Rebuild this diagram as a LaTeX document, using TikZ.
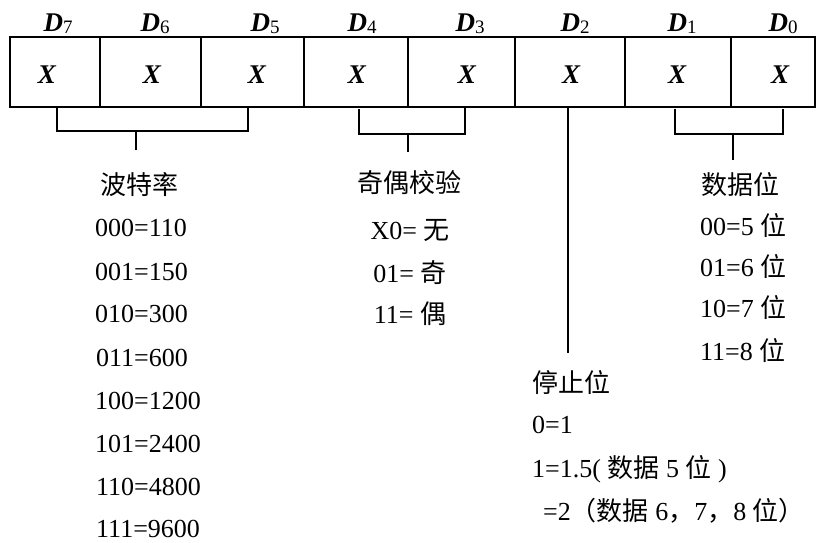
\documentclass[tikz,border=0pt]{standalone}
\usepackage{fontspec}
\setmainfont{Liberation Serif}
\newfontfamily\cjk{Noto Sans CJK SC}
\tikzset{
  cellbox/.style={draw, line width=2.4pt, minimum height=70pt, inner sep=0pt},
  bitx/.style={font=\fontsize{27}{27}\selectfont\bfseries\itshape, inner sep=0pt},
  dlab/.style={font=\fontsize{27}{27}\selectfont, inner sep=0pt},
  txt/.style={font=\fontsize{26}{26}\selectfont, inner sep=0pt},
  brk/.style={line width=2.2pt},
}
\newcommand{\Dlab}[1]{\textbf{\textit{D}}\raisebox{-2pt}{\fontsize{19}{19}\selectfont #1}}
\begin{document}
\begin{tikzpicture}[x=1pt,y=-1pt]
\useasboundingbox (0,0) rectangle (817,542);
% cells
\node[cellbox, minimum width=90pt]  (c7) at (55,72) {};
\node[cellbox, minimum width=101pt] (c6) at (150.5,72) {};
\node[cellbox, minimum width=103pt] (c5) at (252.5,72) {};
\node[cellbox, minimum width=104pt] (c4) at (356,72) {};
\node[cellbox, minimum width=107pt] (c3) at (461.5,72) {};
\node[cellbox, minimum width=110pt] (c2) at (570,72) {};
\node[cellbox, minimum width=106pt] (c1) at (678,72) {};
\node[cellbox, minimum width=84pt]  (c0) at (773,72) {};
% X marks
\node[bitx] (x7) at (47,75) {X};
\node[bitx] (x6) at (152,75) {X};
\node[bitx] (x5) at (257,75) {X};
\node[bitx] (x4) at (357,75) {X};
\node[bitx] (x3) at (467,75) {X};
\node[bitx] (x2) at (571,75) {X};
\node[bitx] (x1) at (677,75) {X};
\node[bitx] (x0) at (780,75) {X};
% D labels
\node[dlab] (d7) at (58,24) {\Dlab{7}};
\node[dlab] (d6) at (155,24) {\Dlab{6}};
\node[dlab] (d5) at (265,24) {\Dlab{5}};
\node[dlab] (d4) at (362,24) {\Dlab{4}};
\node[dlab] (d3) at (470,24) {\Dlab{3}};
\node[dlab] (d2) at (575,24) {\Dlab{2}};
\node[dlab] (d1) at (682,24) {\Dlab{1}};
\node[dlab] (d0) at (783,24) {\Dlab{0}};
% bracket coordinates
\coordinate (b1l) at (57,107);
\coordinate (b1r) at (248,107);
\coordinate (b1m) at (136,131);
\coordinate (b1e) at (136,150);
\coordinate (b2l) at (359,109);
\coordinate (b2r) at (465,107);
\coordinate (b2m) at (408,134);
\coordinate (b2e) at (408,152);
\coordinate (b3l) at (675,109);
\coordinate (b3r) at (783,109);
\coordinate (b3m) at (733,134);
\coordinate (b3e) at (733,160);
\coordinate (s2t) at (568,107);
\coordinate (s2e) at (568,353);
% brackets
\draw[brk] (b1l) |- (b1m) -| (b1r);
\draw[brk] (b1m) -- (b1e);
\draw[brk] (b2l) |- (b2m) -| (b2r);
\draw[brk] (b2m) -- (b2e);
\draw[brk] (b3l) |- (b3m) -| (b3r);
\draw[brk] (b3m) -- (b3e);
\draw[brk] (s2t) -- (s2e);
% baud rate
\node[txt] (baudt) at (139,185) {\cjk 波特率};
\node[txt, anchor=base west] (bd0) at (95,236) {000=110};
\node[txt, anchor=base west] (bd1) at (95,280) {001=150};
\node[txt, anchor=base west] (bd2) at (95,322) {010=300};
\node[txt, anchor=base west] (bd3) at (96,366) {011=600};
\node[txt, anchor=base west] (bd4) at (95,409) {100=1200};
\node[txt, anchor=base west] (bd5) at (95,452) {101=2400};
\node[txt, anchor=base west] (bd6) at (96,495) {110=4800};
\node[txt, anchor=base west] (bd7) at (96,537) {111=9600};
% parity
\node[txt] (part) at (409,183) {\cjk 奇偶校验};
\node[txt, anchor=base] (pa0) at (410,239) {X0= {\cjk 无}};
\node[txt, anchor=base] (pa1) at (410,282) {01= {\cjk 奇}};
\node[txt, anchor=base] (pa2) at (410,323) {11= {\cjk 偶}};
% data bits
\node[txt] (datt) at (740,185) {\cjk 数据位};
\node[txt, anchor=base west] (da0) at (700,235) {00=5 {\cjk 位}};
\node[txt, anchor=base west] (da1) at (700,276) {01=6 {\cjk 位}};
\node[txt, anchor=base west] (da2) at (700,317) {10=7 {\cjk 位}};
\node[txt, anchor=base west] (da3) at (700,360) {11=8 {\cjk 位}};
% stop bits
\node[txt, anchor=west] (stt) at (532,383) {\cjk 停止位};
\node[txt, anchor=base west] (st0) at (532,433) {0=1};
\node[txt, anchor=base west] (st1) at (532,477) {1=1.5( {\cjk 数据} 5 {\cjk 位} )};
\node[txt, anchor=base west] (st2) at (543,520) {=2{\cjk （数据} 6{\cjk ，}7{\cjk ，}8 {\cjk 位）}};
\end{tikzpicture}
\end{document}
